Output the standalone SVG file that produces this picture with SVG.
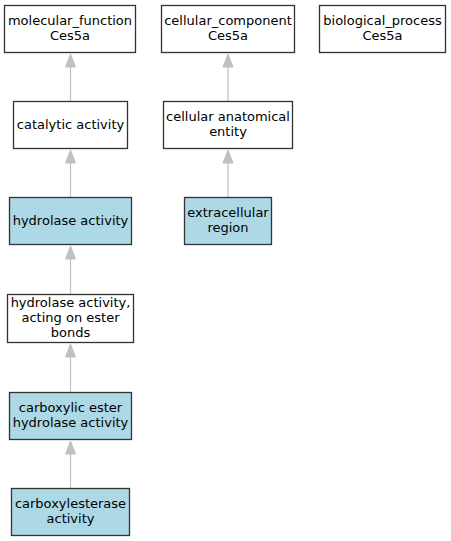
<svg xmlns="http://www.w3.org/2000/svg" width="451" height="541" viewBox="0 0 451 541">
<style>
.n rect{fill:#ffffff;stroke:#333333;stroke-width:1.3}
.n.hl rect{fill:#add8e6}
.n text{font-family:"DejaVu Sans",sans-serif;font-size:13px;fill:#000;text-anchor:middle}
.e line{stroke:#c0c0c0;stroke-width:1.2}
.e polygon{fill:#c0c0c0;stroke:#c0c0c0}
</style>
<rect width="451" height="541" fill="#fff"/>
<g id="edges" class="e">
<line x1="70.5" y1="66" x2="70.5" y2="101"/><polygon points="70.5,54 65.5,67 75.5,67"/>
<line x1="228" y1="66" x2="228" y2="101"/><polygon points="228,54 223,67 233,67"/>
<line x1="70.5" y1="162" x2="70.5" y2="197"/><polygon points="70.5,150 65.5,163 75.5,163"/>
<line x1="228" y1="162" x2="228" y2="197"/><polygon points="228,150 223,163 233,163"/>
<line x1="70.5" y1="258" x2="70.5" y2="294"/><polygon points="70.5,246 65.5,259 75.5,259"/>
<line x1="70.5" y1="356" x2="70.5" y2="392"/><polygon points="70.5,344 65.5,357 75.5,357"/>
<line x1="70.5" y1="453" x2="70.5" y2="488"/><polygon points="70.5,441 65.5,454 75.5,454"/>
</g>
<g id="molecular_function" class="n"><rect x="4.5" y="5.5" width="131" height="47"/><text x="70" y="25">molecular_function</text><text x="70" y="40">Ces5a</text></g>
<g id="cellular_component" class="n"><rect x="161.5" y="5.5" width="133" height="47"/><text x="228" y="25">cellular_component</text><text x="228" y="40">Ces5a</text></g>
<g id="biological_process" class="n"><rect x="319.5" y="5.5" width="126" height="47"/><text x="382.5" y="25">biological_process</text><text x="382.5" y="40">Ces5a</text></g>
<g id="catalytic_activity" class="n"><rect x="13.5" y="101.5" width="114" height="47"/><text x="70.5" y="129">catalytic activity</text></g>
<g id="cellular_anatomical_entity" class="n"><rect x="163.5" y="101.5" width="129" height="47"/><text x="228" y="121">cellular anatomical</text><text x="228" y="136">entity</text></g>
<g id="hydrolase_activity" class="n hl"><rect x="9.5" y="197.5" width="122" height="47"/><text x="70.5" y="225">hydrolase activity</text></g>
<g id="extracellular_region" class="n hl"><rect x="184.5" y="197.5" width="87" height="47"/><text x="228" y="217">extracellular</text><text x="228" y="232">region</text></g>
<g id="hydrolase_ester" class="n"><rect x="7.5" y="294.5" width="126" height="48"/><text x="70.5" y="307">hydrolase activity,</text><text x="70.5" y="322">acting on ester</text><text x="70.5" y="337">bonds</text></g>
<g id="carboxylic_ester" class="n hl"><rect x="9.5" y="392.5" width="122" height="47"/><text x="70.5" y="412">carboxylic ester</text><text x="70.5" y="427">hydrolase activity</text></g>
<g id="carboxylesterase" class="n hl"><rect x="11.5" y="488.5" width="118" height="47"/><text x="70.5" y="508">carboxylesterase</text><text x="70.5" y="523">activity</text></g>
</svg>
